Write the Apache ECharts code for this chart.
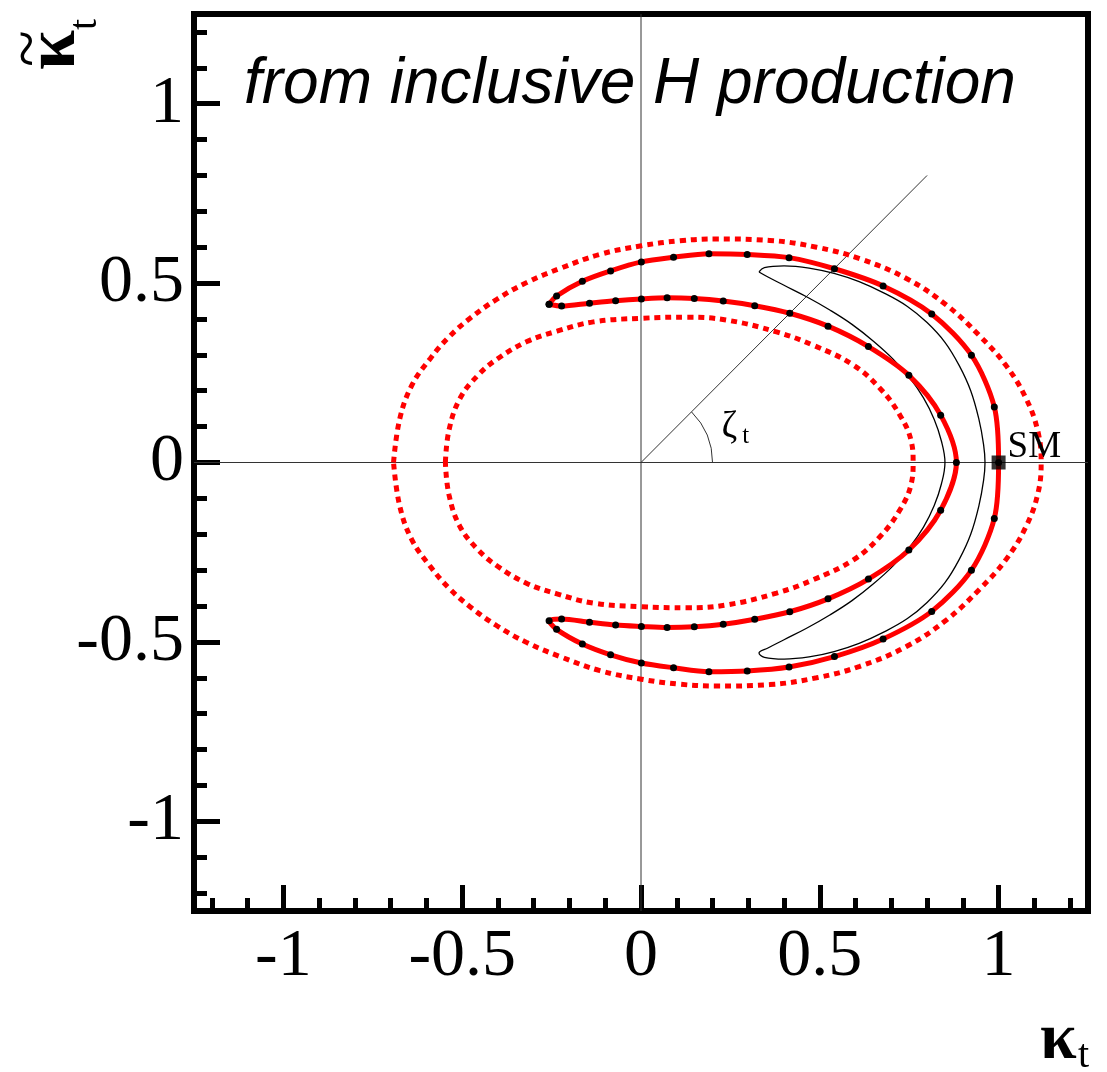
<!DOCTYPE html>
<html>
<head>
<meta charset="utf-8">
<script src="https://cdn.jsdelivr.net/npm/echarts@6/dist/echarts.min.js"></script>
<style>
  html, body { margin: 0; padding: 0; background: #fff; }
  #chart { width: 1107px; height: 1072px; }
</style>
</head>
<body>
<div id="chart"></div>
<script>
// Axis ticks (both axes share the same range and marks)
const axisRange = [-1.25, 1.25];
const majorTicks = [-1, -0.5, 0, 0.5, 1];
const minorTicks = [-1.2, -1.1, -0.9, -0.8, -0.7, -0.6, -0.4, -0.3, -0.2, -0.1,
                    0.1, 0.2, 0.3, 0.4, 0.6, 0.7, 0.8, 0.9, 1.1, 1.2];

// Allowed region (solid red, sampled points marked with dots), closed loop
const allowedContour = [
  [-0.257, 0.441], [-0.236, 0.464], [-0.164, 0.505], [-0.085, 0.534], [0.001, 0.559],
  [0.091, 0.572], [0.190, 0.582], [0.297, 0.580], [0.414, 0.571], [0.541, 0.540],
  [0.677, 0.492], [0.813, 0.414], [0.924, 0.299], [0.988, 0.155], [1.000, 0.000],
  [0.988, -0.156], [0.924, -0.300], [0.813, -0.415], [0.677, -0.492], [0.541, -0.541],
  [0.414, -0.570], [0.297, -0.581], [0.190, -0.583], [0.091, -0.572], [0.001, -0.559],
  [-0.085, -0.536], [-0.164, -0.506], [-0.236, -0.465], [-0.257, -0.441],
  [-0.222, -0.436], [-0.144, -0.445], [-0.071, -0.453], [0.001, -0.457], [0.073, -0.460],
  [0.149, -0.458], [0.230, -0.451], [0.318, -0.437], [0.416, -0.416], [0.523, -0.380],
  [0.636, -0.325], [0.749, -0.244], [0.838, -0.133], [0.882, 0.000], [0.838, 0.132],
  [0.749, 0.243], [0.636, 0.323], [0.523, 0.380], [0.416, 0.416], [0.318, 0.437],
  [0.230, 0.450], [0.149, 0.457], [0.073, 0.459], [0.001, 0.456], [-0.071, 0.451],
  [-0.144, 0.444], [-0.222, 0.436], [-0.257, 0.441]
];

// Outer dashed contour
const outerDashed = [
  [-0.692, 0.000], [-0.675, 0.120], [-0.641, 0.215], [-0.589, 0.290], [-0.538, 0.349],
  [-0.478, 0.402], [-0.403, 0.455], [-0.319, 0.502], [-0.226, 0.541], [-0.115, 0.580],
  [0.001, 0.604], [0.109, 0.618], [0.211, 0.623], [0.360, 0.619], [0.491, 0.600],
  [0.612, 0.568], [0.742, 0.513], [0.854, 0.439], [0.947, 0.353], [1.021, 0.270],
  [1.077, 0.178], [1.110, 0.086], [1.119, 0.000],
  [1.110, -0.086], [1.077, -0.178], [1.021, -0.270], [0.947, -0.353], [0.854, -0.439],
  [0.742, -0.513], [0.612, -0.568], [0.491, -0.600], [0.360, -0.619], [0.211, -0.623],
  [0.109, -0.618], [0.001, -0.604], [-0.115, -0.580], [-0.226, -0.541], [-0.319, -0.502],
  [-0.403, -0.455], [-0.478, -0.402], [-0.538, -0.349], [-0.589, -0.290], [-0.641, -0.215],
  [-0.675, -0.120], [-0.692, 0.000]
];

// Inner dashed contour
const innerDashed = [
  [-0.547, 0.000], [-0.537, 0.090], [-0.506, 0.179], [-0.455, 0.244], [-0.400, 0.290],
  [-0.319, 0.337], [-0.235, 0.366], [-0.133, 0.392], [0.001, 0.402], [0.128, 0.405],
  [0.239, 0.397], [0.379, 0.364], [0.481, 0.327], [0.593, 0.272], [0.668, 0.207],
  [0.724, 0.132], [0.756, 0.058], [0.761, 0.000],
  [0.756, -0.058], [0.724, -0.132], [0.668, -0.207], [0.593, -0.272], [0.481, -0.327],
  [0.379, -0.364], [0.239, -0.397], [0.128, -0.405], [0.001, -0.402], [-0.133, -0.392],
  [-0.235, -0.366], [-0.319, -0.337], [-0.400, -0.290], [-0.455, -0.244], [-0.506, -0.179],
  [-0.537, -0.090], [-0.547, 0.000]
];

// Thin black crescent
const crescent = [
  [0.330, 0.531], [0.345, 0.543], [0.400, 0.548], [0.470, 0.542], [0.540, 0.527],
  [0.610, 0.504], [0.680, 0.472], [0.745, 0.435], [0.800, 0.390], [0.850, 0.335],
  [0.890, 0.270], [0.922, 0.200], [0.945, 0.120], [0.958, 0.050], [0.962, 0.000],
  [0.958, -0.050], [0.945, -0.120], [0.922, -0.200], [0.890, -0.270], [0.850, -0.335],
  [0.800, -0.390], [0.745, -0.435], [0.680, -0.472], [0.610, -0.504], [0.540, -0.527],
  [0.470, -0.542], [0.400, -0.548], [0.345, -0.543], [0.330, -0.531],
  [0.355, -0.517], [0.400, -0.494], [0.463, -0.462], [0.528, -0.425], [0.590, -0.385],
  [0.650, -0.338], [0.705, -0.288], [0.752, -0.235], [0.790, -0.180], [0.820, -0.120],
  [0.840, -0.060], [0.850, 0.000], [0.840, 0.060], [0.820, 0.120], [0.790, 0.180],
  [0.752, 0.235], [0.705, 0.288], [0.650, 0.338], [0.590, 0.385], [0.528, 0.425],
  [0.463, 0.462], [0.400, 0.494], [0.355, 0.517], [0.330, 0.531]
];

// Reference lines and the phase angle
const horizontalAxisLine = [[-1.25, 0], [1.25, 0]];
const verticalAxisLine = [[0, -1.25], [0, 1.25]];
const phaseRay = [[0, 0], [0.8, 0.8]];
const phaseArc = [[0, 0, 0.2, 45]];
const smPoint = [[1, 0]];
const zetaAnchor = [0.247, 0.100];
const zetaSubAnchor = [0.293, 0.072];

const serif = '"Liberation Serif", "Times New Roman", serif';
const sans = '"Liberation Sans", Arial, sans-serif';

const chart = echarts.init(document.getElementById('chart'), null, { renderer: 'canvas' });

function makeAxis(position, ticks, len, showLabel, margin) {
  return {
    type: 'value', position: position, min: axisRange[0], max: axisRange[1],
    axisLine: { show: false, onZero: false },
    splitLine: { show: false },
    axisTick: { show: true, inside: true, length: len, customValues: ticks,
                lineStyle: { color: '#000', width: 5 } },
    axisLabel: { show: showLabel, customValues: ticks, margin: margin,
                 fontFamily: serif, fontSize: 68, color: '#000' }
  };
}

const thinLine = (data) => ({
  type: 'line', data, showSymbol: false, symbol: 'none', silent: true, z: 1,
  lineStyle: { color: '#333', width: 1 }
});

chart.setOption({
  animation: false,
  backgroundColor: '#fff',
  grid: {
    left: 194, right: 19, top: 14, bottom: 161,
    show: true, borderColor: '#000', borderWidth: 6, backgroundColor: 'transparent'
  },
  xAxis: [makeAxis('bottom', majorTicks, 26, true, 12), makeAxis('bottom', minorTicks, 13, false, 12)],
  yAxis: [makeAxis('left', majorTicks, 26, true, 10), makeAxis('left', minorTicks, 13, false, 10)],
  series: [
    thinLine(horizontalAxisLine),
    thinLine(verticalAxisLine),
    thinLine(phaseRay),
    {
      type: 'custom', data: phaseArc, z: 1, silent: true,
      renderItem: function (params, api) {
        const c = api.coord([api.value(0), api.value(1)]);
        const e = api.coord([api.value(0) + api.value(2), api.value(1)]);
        const r = e[0] - c[0];
        return {
          type: 'arc',
          shape: { cx: c[0], cy: c[1], r: r, startAngle: -api.value(3) * Math.PI / 180,
                   endAngle: 0, clockwise: true },
          style: { stroke: '#333', fill: null, lineWidth: 1 }
        };
      }
    },
    {
      type: 'line', data: outerDashed, smooth: 0.4, showSymbol: false, symbol: 'none', z: 2,
      lineStyle: { color: '#ff0000', width: 5, type: [6, 5] }
    },
    {
      type: 'line', data: innerDashed, smooth: 0.4, showSymbol: false, symbol: 'none', z: 2,
      lineStyle: { color: '#ff0000', width: 5, type: [6, 5] }
    },
    {
      type: 'line', data: crescent, smooth: 0.4, showSymbol: false, symbol: 'none', z: 3,
      lineStyle: { color: '#000', width: 1.3 }
    },
    {
      type: 'line', data: allowedContour, smooth: 0.3, z: 4,
      showSymbol: true, showAllSymbol: true, symbol: 'circle', symbolSize: 7,
      itemStyle: { color: '#000' },
      lineStyle: { color: '#ff0000', width: 5 }
    },
    {
      type: 'scatter', data: smPoint, symbol: 'rect', symbolSize: 14, z: 6,
      itemStyle: { color: '#000' }
    }
  ]
});

// Text annotations anchored to data positions
const toPx = (p) => chart.convertToPixel({ xAxisIndex: 0, yAxisIndex: 0 }, p);
const smPx = toPx(smPoint[0]);
const zPx = toPx(zetaAnchor);
const zsPx = toPx(zetaSubAnchor);

chart.setOption({
  graphic: [
    {
      type: 'text', x: 244, y: 53, z: 10,
      style: { text: 'from inclusive H production', font: 'italic 64px ' + sans, fill: '#000' }
    },
    {
      type: 'text', x: smPx[0] + 9, y: smPx[1] - 15, z: 10,
      style: { text: 'SM', font: '37px ' + serif, fill: '#000', verticalAlign: 'middle' }
    },
    {
      type: 'text', x: zPx[0], y: zPx[1], z: 10,
      style: { text: 'ζ', font: '38px ' + serif, fill: '#000', align: 'center', verticalAlign: 'middle' }
    },
    {
      type: 'text', x: zsPx[0], y: zsPx[1], z: 10,
      style: { text: 't', font: '25px ' + serif, fill: '#000', align: 'center', verticalAlign: 'middle' }
    },
    {
      type: 'group', x: 1040, y: 1008, z: 10,
      children: [
        { type: 'text', x: 0, y: 0, style: { text: 'κ', font: 'bold 66px ' + serif, fill: '#000' } },
        { type: 'text', x: 38, y: 28, style: { text: 't', font: '40px ' + serif, fill: '#000' } }
      ]
    },
    {
      type: 'group', x: 85, y: 70, rotation: Math.PI / 2, z: 10,
      children: [
        { type: 'text', x: 0, y: -66, style: { text: 'κ', font: 'bold 72px ' + serif, fill: '#000' } },
        { type: 'text', x: 3, y: -88, style: { text: '~', font: '68px ' + serif, fill: '#000' } },
        { type: 'text', x: 40, y: -20, style: { text: 't', font: '40px ' + serif, fill: '#000' } }
      ]
    }
  ]
});
</script>
</body>
</html>
